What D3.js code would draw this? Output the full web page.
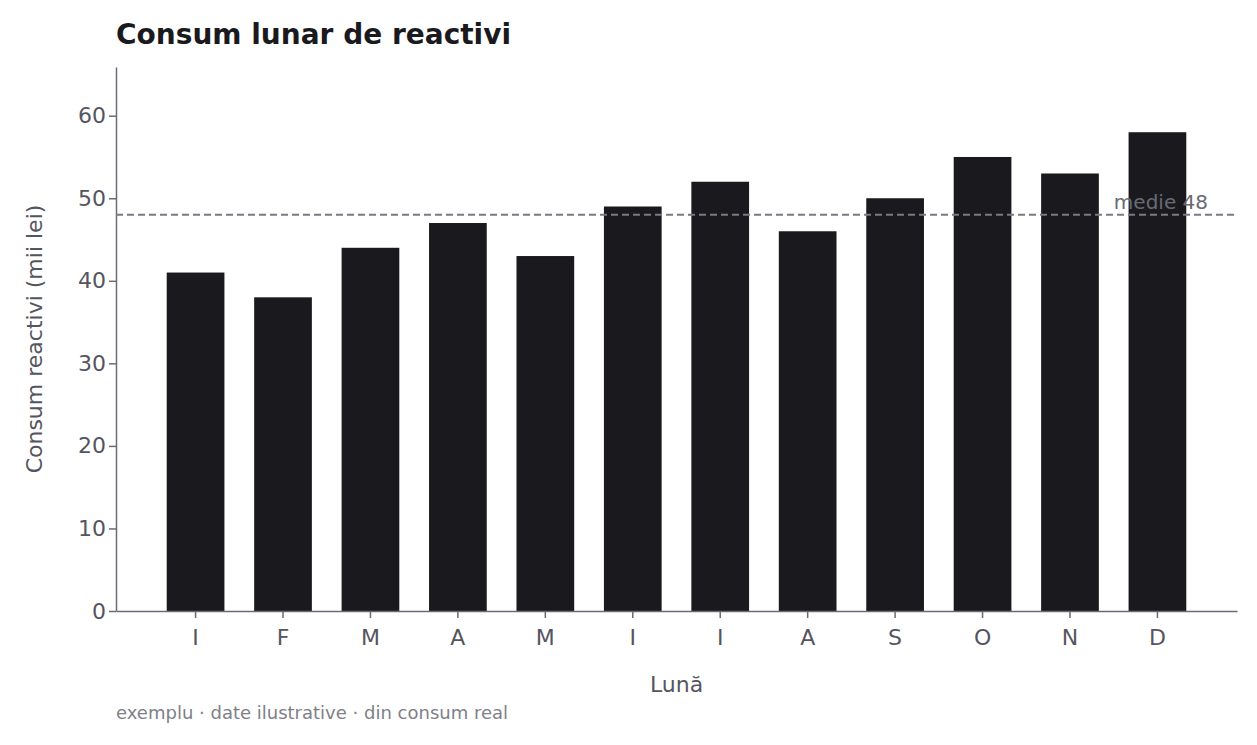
<!DOCTYPE html>
<html><head><meta charset="utf-8">
<script src="https://cdn.jsdelivr.net/npm/d3@7"></script>
<style>body{margin:0;background:#fff}text{font-family:"DejaVu Sans",sans-serif}</style>
</head><body><svg></svg>
<script>
const months = ['I','F','M','A','M','I','I','A','S','O','N','D'];
const values = [41, 38, 44, 47, 43, 49, 52, 46, 50, 55, 53, 58];
const yTicks = [0, 10, 20, 30, 40, 50, 60];
const mean = d3.mean(values);

const W = 1257, H = 745;
const M = {left: 116, right: 20, top: 67, bottom: 134};
const svg = d3.select('svg').attr('width', W).attr('height', H);

const x = d3.scaleBand().domain(d3.range(12)).range([M.left, W - M.right])
  .paddingInner(0.34).paddingOuter(0.58);
const y = d3.scaleLinear().domain([0, 65.9]).range([H - M.bottom, M.top]);

const axisColor = '#6b6b75', tickText = '#555560';

svg.selectAll('.bar').data(values).enter().append('rect')
  .attr('x', (d, i) => x(i)).attr('width', x.bandwidth())
  .attr('y', d => y(d)).attr('height', d => y(0) - y(d))
  .attr('fill', '#1a1a1e');

const gx = svg.append('g').attr('transform', `translate(0,${y(0)})`)
  .call(d3.axisBottom(x).tickFormat(i => months[i]).tickSize(7).tickSizeOuter(0));
const gy = svg.append('g').attr('transform', `translate(${M.left},0)`)
  .call(d3.axisLeft(y).tickValues(yTicks).tickSize(7).tickSizeOuter(0));
[gx, gy].forEach(g => {
  g.selectAll('path,line').attr('stroke', axisColor).attr('stroke-width', 1.5);
  g.selectAll('text').attr('fill', tickText).style('font-size', '22px');
});
gx.selectAll('text').attr('dy', '1.1em');

svg.append('line').attr('x1', M.left).attr('x2', W - M.right)
  .attr('y1', y(mean)).attr('y2', y(mean))
  .attr('stroke', '#7a7a85').attr('stroke-width', 2).attr('stroke-dasharray', '7,4');
svg.append('text').attr('x', 1208).attr('y', y(mean) - 6).attr('text-anchor', 'end')
  .attr('fill', '#6a6a72').style('font-size', '20px').text('medie ' + mean);

svg.append('text').attr('x', 116).attr('y', 44).attr('font-weight', 'bold')
  .attr('fill', '#1a1a1e').style('font-size', '28px').text('Consum lunar de reactivi');
svg.append('text').attr('x', (M.left + W - M.right) / 2).attr('y', 692).attr('text-anchor', 'middle')
  .attr('fill', tickText).style('font-size', '22px').text('Lună');
svg.append('text').attr('transform', `translate(42,${(y(0) + M.top) / 2}) rotate(-90)`)
  .attr('text-anchor', 'middle').attr('fill', tickText).style('font-size', '22px')
  .text('Consum reactivi (mii lei)');
svg.append('text').attr('x', 116).attr('y', 719).attr('fill', '#808088')
  .style('font-size', '18px').text('exemplu · date ilustrative · din consum real');
</script></body></html>
